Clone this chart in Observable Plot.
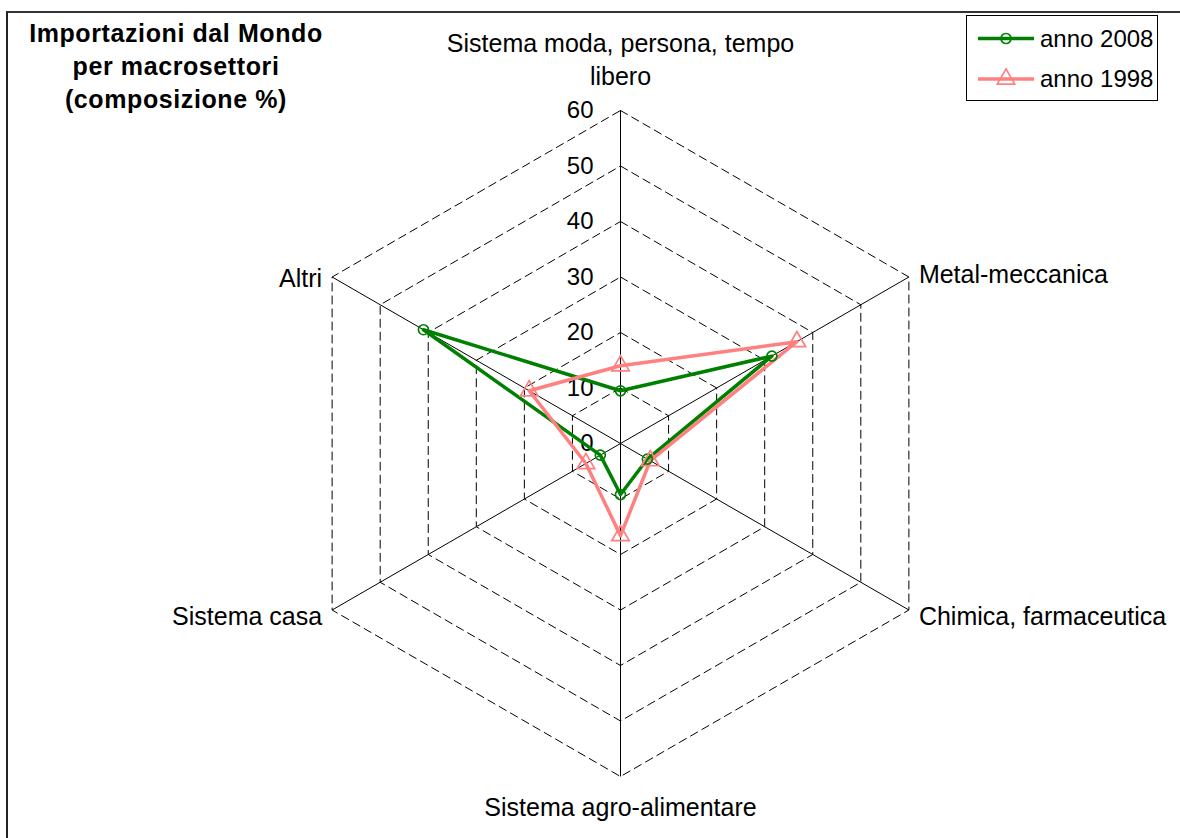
<!DOCTYPE html>
<html>
<head>
<meta charset="utf-8">
<script src="https://cdn.jsdelivr.net/npm/d3@7"></script>
<script src="https://cdn.jsdelivr.net/npm/@observablehq/plot@0.6"></script>
<style>
  body { margin: 0; background: #fff; font-family: "Liberation Sans", Arial, sans-serif; }
  #wrap { position: relative; width: 1180px; height: 838px; overflow: hidden; background: #fff; }
  #frame { position: absolute; left: 6px; top: 11px; right: -10px; bottom: -10px;
           border-top: 2px solid #333; border-left: 2px solid #222; pointer-events: none; }
  #chart { position: absolute; left: 0; top: 0; }
  #title { position: absolute; left: 16px; top: 17px; width: 320px; text-align: center;
           font-weight: bold; font-size: 25px; line-height: 33px; letter-spacing: 0.6px; color: #000; }
  #legend { position: absolute; left: 966px; top: 15px; width: 190px; height: 84px;
            border: 1px solid #000; background: #fff; }
</style>
</head>
<body>
<div id="wrap">
  <div id="chart"></div>
  <div id="frame"></div>
  <div id="title">Importazioni dal Mondo<br>per macrosettori<br>(composizione %)</div>
  <div id="legend"></div>
</div>
<script>
// ---- data ----
const categories = [
  "Sistema moda, persona, tempo libero",
  "Metal-meccanica",
  "Chimica, farmaceutica",
  "Sistema agro-alimentare",
  "Sistema casa",
  "Altri"
];
const values2008 = [9.5, 31.5, 5.6, 9.2, 4.2, 41.0];
const values1998 = [14.0, 36.7, 6.2, 16.6, 7.2, 19.0];
const tickValues = [0, 10, 20, 30, 40, 50, 60];
const seriesNames = ["anno 2008", "anno 1998"];
const seriesColors = ["#008000", "#FF8080"];
const seriesSymbols = ["circle", "triangle"];

// ---- geometry ----
const W = 1180, H = 838;
const CX = 620, CY = 443, PX = 5.55; // pixels per unit
const n = categories.length;
const maxV = d3.max(tickValues);
const ang = i => Math.PI / 2 - i * 2 * Math.PI / n;
const px = (v, i) => v * Math.cos(ang(i));
const py = (v, i) => v * Math.sin(ang(i));

const rings = tickValues.filter(t => t > 0).flatMap(l =>
  d3.range(n + 1).map(k => ({level: l, x: px(l, k % n), y: py(l, k % n)})));
const spokes = categories.map((c, i) => ({x1: 0, y1: 0, x2: px(maxV, i), y2: py(maxV, i)}));

const seriesData = [values2008, values1998].map((vals, s) =>
  d3.range(n + 1).map(k => ({series: seriesNames[s], x: px(vals[k % n], k % n), y: py(vals[k % n], k % n)})));

// label layout (pixel offsets from spoke tips)
const labelLayout = [
  {anchor: "middle", dx: 0, dy: -26, lineAnchor: "bottom"},
  {anchor: "start", dx: 10, dy: -5, lineAnchor: "middle"},
  {anchor: "start", dx: 10, dy: 4, lineAnchor: "middle"},
  {anchor: "middle", dx: 0, dy: 29, lineAnchor: "middle"},
  {anchor: "end", dx: -10, dy: 4, lineAnchor: "middle"},
  {anchor: "end", dx: -10, dy: -1, lineAnchor: "middle"}
];
const labelData = categories.map((c, i) => ({
  text: c.replace(" libero", "\nlibero"),
  x: px(maxV, i) + labelLayout[i].dx / PX,
  y: py(maxV, i) - labelLayout[i].dy / PX,
  anchor: labelLayout[i].anchor,
  lineAnchor: labelLayout[i].lineAnchor
}));
const labelMark = (anchor, lineAnchor) => Plot.text(
  labelData.filter(d => d.anchor === anchor && d.lineAnchor === lineAnchor),
  {x: "x", y: "y", text: "text", textAnchor: anchor, lineAnchor, fontSize: 25, lineHeight: 1.32, fill: "#000"});

const font = "'Liberation Sans', Arial, sans-serif";

const chart = Plot.plot({
  width: W, height: H, margin: 0,
  x: {domain: [-CX / PX, (W - CX) / PX], axis: null},
  y: {domain: [-(H - CY) / PX, CY / PX], axis: null},
  style: {fontFamily: font, background: "transparent", overflow: "visible"},
  marks: [
    Plot.line(rings, {x: "x", y: "y", z: "level", stroke: "#000", strokeWidth: 1, strokeDasharray: "8,5"}),
    Plot.link(spokes, {x1: "x1", y1: "y1", x2: "x2", y2: "y2", stroke: "#000", strokeWidth: 1}),
    Plot.text(tickValues, {x: () => 0, y: d => d, text: d => String(d), dx: -27, textAnchor: "end", fontSize: 24, fill: "#000"}),
    labelMark("middle", "bottom"),
    labelMark("middle", "middle"),
    labelMark("start", "middle"),
    labelMark("end", "middle"),
    ...seriesData.map((data, s) => Plot.line(data, {x: "x", y: "y", stroke: seriesColors[s], strokeWidth: 3.5, strokeLinejoin: "round"})),
    ...seriesData.map((data, s) => Plot.dot(data.slice(0, n), {x: "x", y: "y", symbol: seriesSymbols[s],
        r: s === 0 ? 5 : 6.5, stroke: seriesColors[s], strokeWidth: 1.7, fill: "none"}))
  ]
});
document.getElementById("chart").appendChild(chart);

// ---- legend ----
const leg = d3.select("#legend").append("svg").attr("width", 190).attr("height", 84);
seriesNames.forEach((name, s) => {
  const y = s === 0 ? 22.5 : 63;
  leg.append("line").attr("x1", 11).attr("x2", 67).attr("y1", y).attr("y2", y)
    .attr("stroke", seriesColors[s]).attr("stroke-width", 3.5);
  const sym = d3.symbol().type(s === 0 ? d3.symbolCircle : d3.symbolTriangle).size(s === 0 ? Math.PI * 25 : Math.PI * 42);
  leg.append("path").attr("d", sym()).attr("transform", `translate(39,${y})`)
    .attr("fill", "none").attr("stroke", seriesColors[s]).attr("stroke-width", 1.7);
  leg.append("text").attr("x", 73).attr("y", y).attr("dy", "0.35em")
    .attr("font-size", 24).attr("font-family", font).attr("fill", "#000").text(name);
});
</script>
</body>
</html>
